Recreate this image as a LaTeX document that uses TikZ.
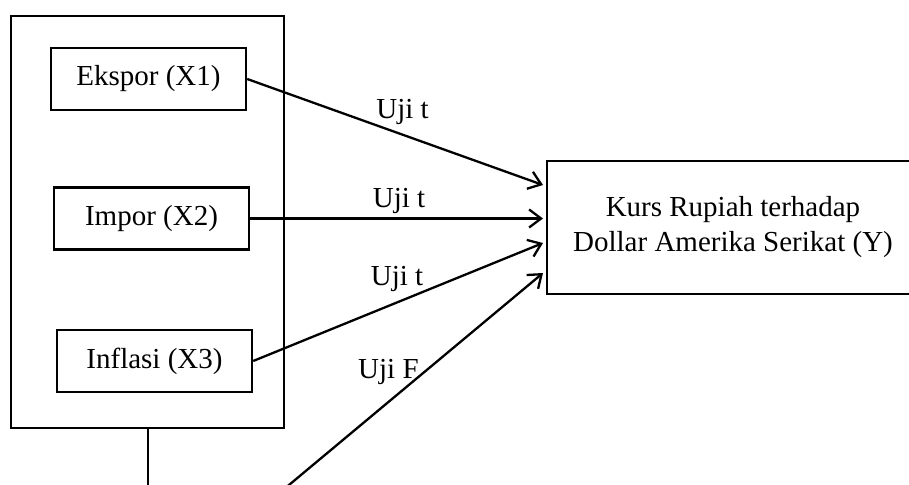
\documentclass[tikz,border=0pt]{standalone}
\usepackage{fontspec}
\setmainfont{Liberation Serif}
\usetikzlibrary{arrows.meta}

\begin{document}
\begin{tikzpicture}[x=1pt,y=-1pt,font=\fontsize{29}{35}\selectfont]
  \tikzstyle{var} = [draw, line width=2.4pt, minimum width=195pt, minimum height=62pt, inner sep=0pt];
  \tikzstyle{dep} = [draw, line width=2.4pt, minimum width=372pt, minimum height=133pt, align=center, inner sep=0pt];
  \tikzstyle{test} = [-{Straight Barb[length=12pt,width=18pt]}, line width=2.3pt];
  \tikzstyle{lbl} = [inner sep=0pt, anchor=base];

  \path[use as bounding box, clip] (0,0) rectangle (909,484);

  % group of independent variables
  \draw[line width=1.5pt] (11,16) rectangle (284,428);

  \node[var] (x1) at (148.5,79) {Ekspor (X1)};
  \node[var] (x2) at (151.5,218.5) {Impor (X2)};
  \node[var] (x3) at (154.5,361) {Inflasi (X3)};

  \node[dep] (y) at (733,227.5) {Kurs Rupiah terhadap\\Dollar Amerika Serikat (Y)};

  \coordinate (g) at (148,428);
  \coordinate (g1) at (148,510);
  \coordinate (g2) at (259,510);

  \draw[test] (x1.east) -- (543,185);
  \draw[test] (x2.east) -- (543,218.5);
  \draw[test] (x3.east) -- (543,243);
  \draw[line width=1.5pt] (g) -- (g1);
  \draw[test] (g1) -- (g2) -- (543,273);

  \node[lbl] (t1) at (402.5,118) {Uji t};
  \node[lbl] (t2) at (399,207) {Uji t};
  \node[lbl] (t3) at (397,285) {Uji t};
  \node[lbl, anchor=base west] (f) at (358,378) {Uji F};

\end{tikzpicture}
\end{document}
